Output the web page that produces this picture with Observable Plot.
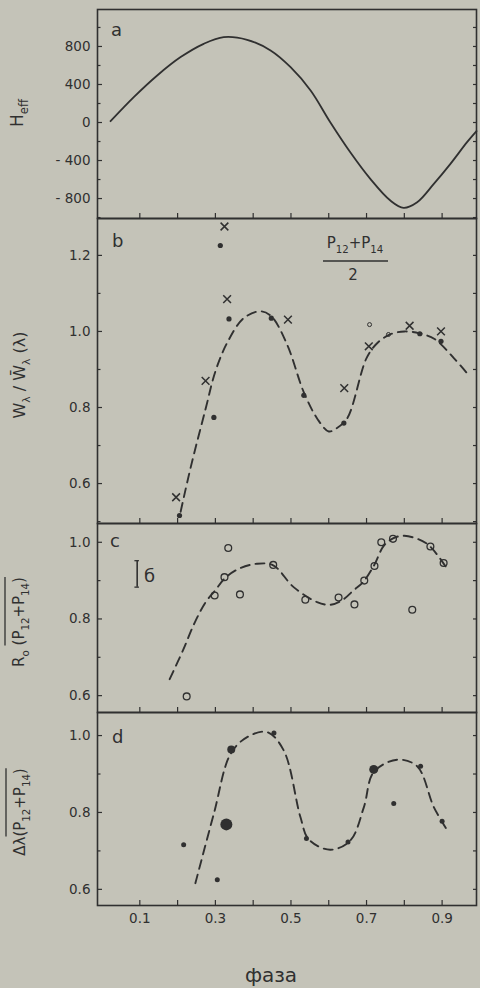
<!DOCTYPE html>
<html><head><meta charset="utf-8">
<script src="https://cdn.jsdelivr.net/npm/d3@7"></script>
<script src="https://cdn.jsdelivr.net/npm/@observablehq/plot@0.6"></script>
<style>
html,body{margin:0;padding:0;background:#c4c3b8;}
#chart{position:relative;width:480px;height:988px;overflow:hidden;}
#chart svg{display:block;position:absolute;left:0;overflow:visible;}
</style></head><body><div id="chart"></div>
<script>
// ---------- data ----------
const phaseTicks = [0.1,0.2,0.3,0.4,0.5,0.6,0.7,0.8,0.9];
const phaseLabels = [0.1,0.3,0.5,0.7,0.9];

// panel a : H_eff
const heffPhase = [0.0225,0.084,0.146,0.208,0.269,0.322,0.384,0.446,0.499,0.552,0.604,0.657,0.71,0.763,0.798,0.834,0.878,0.922,0.966,0.991];
const heffValue = [14,267,495,688,828,898,870,758,582,337,3,-313,-593,-821,-898,-839,-646,-435,-207,-91];
const heffTicks = [-800,-400,0,400,800];
const heffMinor = [-1000,-600,-200,200,600,1000];
const heffRight = [-1000,-800,-600,-400,-200,0,200,400,600,800,1000];

// panel b : W/W
const bCrossPhase = [0.196,0.274,0.324,0.331,0.492,0.641,0.706,0.814,0.897];
const bCrossValue = [0.564,0.870,1.276,1.085,1.031,0.851,0.961,1.015,1.000];
const bDotPhase = [0.205,0.296,0.313,0.336,0.448,0.534,0.640,0.841,0.897];
const bDotValue = [0.516,0.774,1.226,1.033,1.035,0.832,0.759,0.994,0.974];
const bOpenPhase = [0.708,0.758];
const bOpenValue = [1.018,0.992];
const bCurvePhase = [0.208,0.234,0.275,0.30,0.331,0.375,0.42,0.448,0.49,0.534,0.57,0.60,0.62,0.649,0.70,0.728,0.762,0.80,0.84,0.88,0.931,0.966];
const bCurveValue = [0.526,0.64,0.80,0.895,0.97,1.035,1.053,1.04,0.965,0.84,0.77,0.737,0.745,0.772,0.93,0.969,0.992,1.0,0.995,0.98,0.93,0.89];
const bTicks = [0.6,0.8,1.0,1.2];
const bMinor = [0.5,0.7,0.9,1.1];
const bRight = [0.5,0.6,0.7,0.8,0.9,1.0,1.1,1.2];

// panel c : R0
const cPhase = [0.224,0.298,0.324,0.334,0.365,0.453,0.538,0.626,0.668,0.694,0.721,0.739,0.770,0.821,0.869,0.904];
const cValue = [0.598,0.861,0.909,0.985,0.864,0.941,0.850,0.856,0.838,0.900,0.938,1.000,1.009,0.824,0.989,0.946];
const cCurvePhase = [0.179,0.215,0.245,0.275,0.30,0.324,0.36,0.41,0.453,0.507,0.569,0.604,0.637,0.666,0.69,0.72,0.745,0.77,0.80,0.86,0.913];
const cCurveValue = [0.643,0.72,0.79,0.845,0.875,0.905,0.93,0.944,0.94,0.883,0.844,0.837,0.85,0.875,0.895,0.94,0.99,1.01,1.017,0.996,0.931];
const sigmaPhase = [0.093];
const sigmaLow = [0.883];
const sigmaHigh = [0.952];
const cTicks = [0.6,0.8,1.0];
const cMinor = [0.7,0.9];
const cRight = [0.6,0.7,0.8,0.9,1.0];

// panel d : delta lambda
const dPhase = [0.216,0.305,0.329,0.342,0.455,0.541,0.651,0.719,0.772,0.843,0.900];
const dValue = [0.716,0.625,0.769,0.964,1.007,0.732,0.723,0.912,0.823,0.920,0.777];
const dRadius = [2.5,2.5,6,4,2.5,2.5,2.5,4.5,2.5,2.5,2.5];
const dCurvePhase = [0.247,0.296,0.34,0.384,0.437,0.481,0.525,0.547,0.604,0.657,0.693,0.719,0.781,0.834,0.878,0.911];
const dCurveValue = [0.616,0.797,0.952,0.996,1.009,0.961,0.788,0.73,0.703,0.727,0.814,0.905,0.937,0.92,0.814,0.758];
const dTicks = [0.6,0.8,1.0];
const dMinor = [0.7,0.9];
const dRight = [0.6,0.7,0.8,0.9,1.0];

// ---------- drawing ----------
const ink = "#303030";
const font = "'DejaVu Sans', sans-serif";
const xDomain = [-0.012, 0.991];
const zip = (xs, ys, extra) => xs.map((x, i) => ({x, y: ys[i], ...(extra ? {r: extra[i]} : {})}));
const dash = {stroke: ink, strokeWidth: 1.9, strokeDasharray: "9,6", curve: "catmull-rom"};

function panel(o) {
  const marks = [
    Plot.frame({stroke: ink, strokeWidth: 1.6}),
    Plot.axisY(o.yMajor, {anchor: "left", tickSize: -5, tickPadding: 12, tickFormat: o.fmt, label: null, fontSize: 13.5, strokeWidth: 1.2}),
    Plot.axisY(o.yMinor, {anchor: "left", tickSize: -3.5, fill: "none", label: null, strokeWidth: 1.2}),
    Plot.axisY(o.yRight, {anchor: "right", tickSize: -4, fill: "none", label: null, strokeWidth: 1.2}),
    Plot.axisX(phaseTicks, {anchor: "bottom", tickSize: -5, fill: "none", label: null, strokeWidth: 1.2}),
    ...o.marks
  ];
  if (o.xLabels) marks.push(Plot.axisX(phaseLabels, {anchor: "bottom", tickSize: 0, tickPadding: 8, label: null, fontSize: 13.5, tickFormat: d3.format(".1f")}));
  const svg = Plot.plot({
    width: 480, height: o.height, marginLeft: 97, marginRight: 4,
    marginTop: o.marginTop || 0, marginBottom: o.marginBottom || 0,
    x: {domain: xDomain}, y: {domain: o.yDomain}, r: {type: "identity"},
    style: {background: "transparent", color: ink, fontFamily: font, fontSize: "13.5px"},
    marks
  });
  svg.style.top = o.top + "px";
  return svg;
}

const chart = document.getElementById("chart");
const f1 = d3.format(".1f");

chart.appendChild(panel({
  top: 0, height: 218, marginTop: 9, yDomain: [-1010, 1189],
  yMajor: heffTicks, yMinor: heffMinor, yRight: heffRight,
  fmt: d => d < 0 ? "- " + Math.abs(d) : String(d),
  marks: [Plot.line(zip(heffPhase, heffValue), {x: "x", y: "y", stroke: ink, strokeWidth: 1.8, curve: "catmull-rom"})]
}));

chart.appendChild(panel({
  top: 218, height: 305, yDomain: [0.495, 1.297],
  yMajor: bTicks, yMinor: bMinor, yRight: bRight, fmt: f1,
  marks: [
    Plot.line(zip(bCurvePhase, bCurveValue), {x: "x", y: "y", ...dash}),
    Plot.dot(zip(bCrossPhase, bCrossValue), {x: "x", y: "y", symbol: "times", r: 3.6, stroke: ink, strokeWidth: 1.5}),
    Plot.dot(zip(bDotPhase, bDotValue), {x: "x", y: "y", r: 2.6, fill: ink, stroke: "none"}),
    Plot.dot(zip(bOpenPhase, bOpenValue), {x: "x", y: "y", r: 2, fill: "none", stroke: ink, strokeWidth: 1})
  ]
}));

chart.appendChild(panel({
  top: 523, height: 189, yDomain: [0.556, 1.049],
  yMajor: cTicks, yMinor: cMinor, yRight: cRight, fmt: f1,
  marks: [
    Plot.line(zip(cCurvePhase, cCurveValue), {x: "x", y: "y", ...dash}),
    Plot.dot(zip(cPhase, cValue), {x: "x", y: "y", r: 3.4, fill: "none", stroke: ink, strokeWidth: 1.3}),
    Plot.ruleX(sigmaPhase, {x: d => d, y1: sigmaLow[0], y2: sigmaHigh[0], stroke: ink, strokeWidth: 1.6}),
    Plot.ruleY([sigmaLow[0], sigmaHigh[0]], {y: d => d, x1: sigmaPhase[0] - 0.006, x2: sigmaPhase[0] + 0.006, stroke: ink, strokeWidth: 1.3})
  ]
}));

chart.appendChild(panel({
  top: 712, height: 276, marginBottom: 83, yDomain: [0.558, 1.06],
  yMajor: dTicks, yMinor: dMinor, yRight: dRight, fmt: f1, xLabels: true,
  marks: [
    Plot.line(zip(dCurvePhase, dCurveValue), {x: "x", y: "y", ...dash}),
    Plot.dot(zip(dPhase, dValue, dRadius), {x: "x", y: "y", r: "r", fill: ink, stroke: "none"})
  ]
}));

// ---------- text overlay ----------
const ov = d3.select(chart).append("svg")
  .attr("width", 480).attr("height", 988)
  .style("top", "0px").style("pointer-events", "none")
  .attr("font-family", font).attr("fill", ink);

function rich(g, segs, size, anchor) {
  const t = g.append("text").attr("text-anchor", anchor || "middle").attr("font-size", size);
  let shift = 0, idx = 0;
  const ranges = {};
  for (const [txt, mode, key] of segs) {
    const target = mode === "sub" ? size * 0.3 : 0;
    t.append("tspan").text(txt).attr("dy", target - shift).attr("font-size", mode === "sub" ? size * 0.68 : size);
    if (key) {
      ranges[key] = ranges[key] || [idx, idx];
      ranges[key][1] = idx + [...txt].length - 1;
    }
    idx += [...txt].length;
    shift = target;
  }
  return {t, ranges};
}
function overline(g, t, range, y) {
  const n = t.node();
  const a = n.getStartPositionOfChar(range[0]).x;
  const b = n.getEndPositionOfChar(range[1]).x;
  g.append("line").attr("x1", a).attr("x2", b).attr("y1", y).attr("y2", y).attr("stroke", ink).attr("stroke-width", 1.3);
}

// panel letters
[["a", 111, 36], ["b", 112, 247], ["c", 110, 547], ["d", 112, 743]].forEach(([s, x, y]) =>
  ov.append("text").attr("x", x).attr("y", y).attr("font-size", 18).text(s));

// rotated y labels
{
  const g = ov.append("g").attr("transform", "translate(23,113) rotate(-90)");
  rich(g, [["H"], ["eff", "sub"]], 17);
}
{
  const g = ov.append("g").attr("transform", "translate(25,375) rotate(-90)");
  rich(g, [["W"], ["λ", "sub"], [" / W\u0304"], ["λ", "sub"], [" (λ)"]], 16);
}
{
  const g = ov.append("g").attr("transform", "translate(24,622) rotate(-90)");
  const {t, ranges} = rich(g, [["R"], ["o", "sub"], [" (P", null, "o"], ["12", "sub", "o"], ["+P", null, "o"], ["14", "sub", "o"], [")", null, "o"]], 15);
  overline(g, t, [ranges.o[0] + 1, ranges.o[1]], -19);
}
{
  const g = ov.append("g").attr("transform", "translate(25,812) rotate(-90)");
  const {t, ranges} = rich(g, [["Δλ"], ["(P", null, "o"], ["12", "sub", "o"], ["+P", null, "o"], ["14", "sub", "o"], [")", null, "o"]], 15);
  overline(g, t, ranges.o, -19);
}

// fraction annotation in panel b
{
  const g = ov.append("g").attr("transform", "translate(355,248)");
  rich(g, [["P"], ["12", "sub"], ["+P"], ["14", "sub"]], 15);
  ov.append("line").attr("x1", 323).attr("x2", 388).attr("y1", 261).attr("y2", 261).attr("stroke", ink).attr("stroke-width", 1.5);
  ov.append("text").attr("x", 353).attr("y", 280).attr("text-anchor", "middle").attr("font-size", 15).text("2");
}

// sigma label in panel c
ov.append("text").attr("x", 144).attr("y", 582).attr("font-size", 18).text("б");

// x axis title
ov.append("text").attr("x", 271).attr("y", 982).attr("text-anchor", "middle").attr("font-size", 20).text("фаза");
</script></body></html>
